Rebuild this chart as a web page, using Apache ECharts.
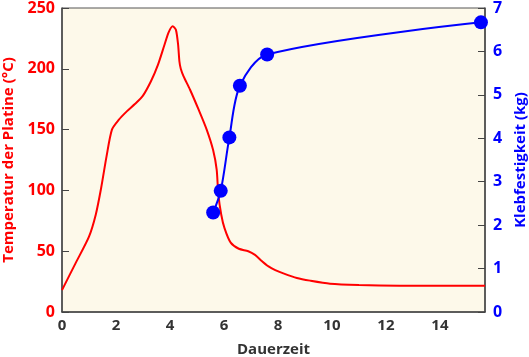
<!DOCTYPE html>
<html><head><meta charset="utf-8">
<script src="https://cdn.jsdelivr.net/npm/echarts@6/dist/echarts.min.js"></script>
<style>html,body{margin:0;padding:0;background:#fff}#c{width:529px;height:357px}</style>
</head><body><div id="c"></div>
<script>
// Temperature curve (x = Dauerzeit, y = °C)
var tempX = [0, 0.5, 1.0, 1.25, 1.45, 1.65, 1.85, 2.1, 2.4, 2.7, 3.0, 3.3, 3.55, 3.8, 3.95, 4.1, 4.22, 4.3, 4.35, 4.4, 4.5, 4.74, 5.05, 5.36, 5.6, 5.73, 5.79, 5.9, 6.02, 6.25, 6.55, 6.9, 7.15, 7.4, 7.65, 7.9, 8.2, 8.7, 9.19, 9.93, 11.0, 12.5, 15.67];
var tempY = [18, 40, 62, 80, 102, 128, 150, 158, 165, 171, 178, 190, 203, 220, 230, 235, 232, 220, 206, 200, 194, 183, 167, 150, 133, 117, 97, 80, 69, 57, 52, 50, 47, 42, 37.5, 34.5, 31.8, 28, 25.8, 23.3, 22.2, 21.6, 21.5];
// Adhesive strength points (x = Dauerzeit, y = kg)
var strengthX = [5.60, 5.88, 6.20, 6.59, 7.60, 15.52];
var strengthY = [2.29, 2.79, 4.02, 5.21, 5.93, 6.67];
var xTicks = [0, 2, 4, 6, 8, 10, 12, 14];

var font = 'Open Sans';
var chart = echarts.init(document.getElementById('c'));
chart.setOption({
  animation: false,
  grid: {left: 62, right: 44, top: 8, bottom: 45, outerBoundsMode: 'none', containLabel: false,
    show: true, backgroundColor: '#FDF9EA', borderColor: '#555', borderWidth: 1},
  xAxis: {
    type: 'value', min: 0, max: 15.67, interval: 2,
    name: 'Dauerzeit', nameLocation: 'middle', nameGap: 30,
    nameTextStyle: {color: '#333', fontFamily: font, fontWeight: 'bold', fontSize: 15},
    axisLine: {show: true, lineStyle: {color: '#444', width: 1.5}},
    axisTick: {show: false},
    splitLine: {show: false},
    axisLabel: {color: '#333', fontFamily: font, fontWeight: 'bold', fontSize: 15, margin: 6, showMaxLabel: false,
      formatter: function (v) { return xTicks.indexOf(v) >= 0 ? String(v) : ''; }}
  },
  yAxis: [{
    type: 'value', min: 0, max: 250, interval: 50, position: 'left',
    name: 'Temperatur der Platine (°C)', nameLocation: 'middle', nameGap: 44, nameRotate: 90,
    nameTextStyle: {color: '#FF0000', fontFamily: font, fontWeight: 'bold', fontSize: 15},
    axisLine: {show: true, lineStyle: {color: '#444', width: 1.5}},
    axisTick: {show: true, inside: true, length: 7, lineStyle: {color: '#444'}},
    splitLine: {show: false},
    axisLabel: {color: '#FF0000', fontFamily: font, fontWeight: 'bold', fontSize: 16, margin: 7}
  }, {
    type: 'value', min: 0, max: 7, interval: 1, position: 'right',
    name: 'Klebfestigkeit (kg)', nameLocation: 'middle', nameGap: 28, nameRotate: 90,
    nameTextStyle: {color: '#0000FF', fontFamily: font, fontWeight: 'bold', fontSize: 15},
    axisLine: {show: true, lineStyle: {color: '#444', width: 1.5}},
    axisTick: {show: true, inside: true, length: 7, lineStyle: {color: '#444'}},
    splitLine: {show: false},
    axisLabel: {color: '#0000FF', fontFamily: font, fontWeight: 'bold', fontSize: 16, margin: 8}
  }],
  series: [{
    type: 'line', yAxisIndex: 0, smooth: 0.25, showSymbol: false,
    lineStyle: {color: '#FF0000', width: 2},
    data: tempX.map(function (x, i) { return [x, tempY[i]]; })
  }, {
    type: 'line', yAxisIndex: 1, smooth: 0.3, symbol: 'circle', symbolSize: 14,
    itemStyle: {color: '#0000FF'},
    lineStyle: {color: '#0000FF', width: 2},
    data: strengthX.map(function (x, i) { return [x, strengthY[i]]; })
  }]
});
</script></body></html>
